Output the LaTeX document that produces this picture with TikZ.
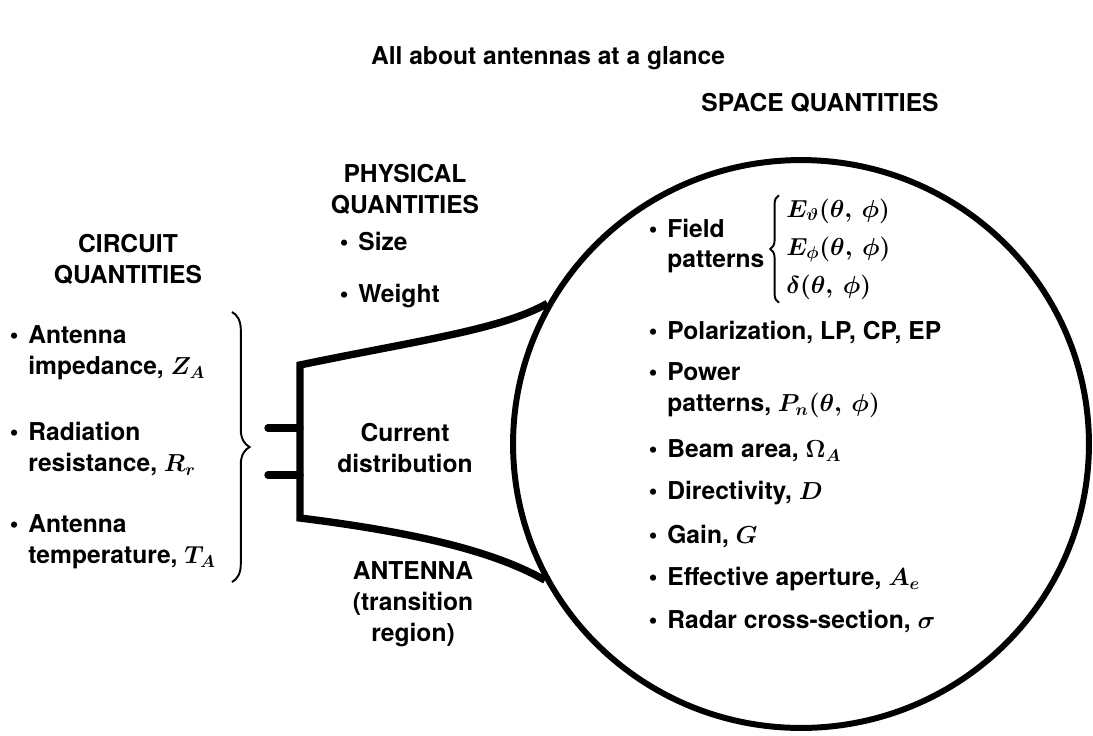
\documentclass[tikz,border=0pt]{standalone}
\IfFileExists{fix-cm.sty}{\usepackage{fix-cm}}{}
\usepackage{fontspec}
\setmainfont{TeX Gyre Heros}
\usepackage{amsmath}
\usetikzlibrary{shapes.geometric, decorations.pathreplacing, positioning, calc}
\newcommand{\bul}{\llap{\textbullet\hspace{0.4em}}}

\begin{document}
\begin{tikzpicture}[
    x=0.02cm, y=-0.02cm,
    base/.style={font=\fontsize{14}{17.6}\selectfont\bfseries\boldmath, inner sep=0pt},
    heading/.style={base, align=center},
    item/.style={base, align=left, anchor=west},
    curly/.style={line width=1.1pt, decorate, decoration={brace, amplitude=#1}},
    horn/.style={line width=4.2pt, line join=miter},
    feed/.style={line width=4.2pt, line cap=round},
    sphere/.style={draw, ellipse, line width=3.4pt, minimum width=11.52cm, minimum height=11.36cm, inner sep=0pt}
  ]
    \useasboundingbox (0,0) rectangle (1093,735);

    % Titles
    \node[heading] (title) at (548,58) {All about antennas at a glance};
    \node[heading] (spacehead) at (820,103) {SPACE QUANTITIES};
    \node[heading] (physhead) at (405,189) {PHYSICAL\\QUANTITIES};
    \node[heading] (circhead) at (128,259) {CIRCUIT\\QUANTITIES};

    % Physical quantities
    \node[item] (size) at (358,241) {\bul Size};
    \node[item] (weight) at (358,296) {\bul Weight};

    % Circuit quantities
    \node[item] (imped) at (28,353) {\bul Antenna\\impedance, $Z_A$};
    \node[item] (radres) at (28,449) {\bul Radiation\\resistance, $R_r$};
    \node[item] (temp) at (28,542) {\bul Antenna\\temperature, $T_A$};
    \coordinate (braceTop) at (232,312);
    \coordinate (braceBot) at (232,582);
    \draw[curly=10pt] (braceTop) -- (braceBot);

    % Antenna (horn)
    \node[sphere] (space) at (801,444) {};
    \coordinate (hornTop) at (300,365);
    \coordinate (hornBot) at (300,518);
    \draw[horn] (space.151) .. controls (500,330) and (420,340) .. (hornTop)
      -- (hornBot) .. controls (420,533) and (495,552) .. (space.208);
    \coordinate (feedA) at (268,428);
    \coordinate (feedB) at (268,475);
    \draw[feed] (feedA) -- (feedA -| hornTop);
    \draw[feed] (feedB) -- (feedB -| hornTop);
    \node[heading] (current) at (405,448) {Current\\distribution};
    \node[heading] (antenna) at (413,604) {ANTENNA\\(transition\\region)};

    % Space quantities
    \node[item] (field) at (667,246) {\bul Field\\patterns};
    \node[base, anchor=west] (fieldeq) at (786,249) {$\begin{array}{@{}l@{}}
        E_\vartheta(\theta,\,\phi)\\[4pt] E_\phi(\theta,\,\phi)\\[4pt] \delta(\theta,\,\phi)
      \end{array}$};
    \draw[curly=5pt] ([xshift=-4pt]fieldeq.south west) -- ([xshift=-4pt]fieldeq.north west);
    \node[item] (polar) at (667,332) {\bul Polarization, LP, CP, EP};
    \node[item] (power) at (667,390) {\bul Power\\patterns, $P_n(\theta,\,\phi)$};
    \node[item] (beam) at (667,451) {\bul Beam area, $\Omega_A$};
    \node[item] (direct) at (667,493) {\bul Directivity, $D$};
    \node[item] (gain) at (667,536) {\bul Gain, $G$};
    \node[item] (aper) at (667,579) {\bul Effective aperture, $A_e$};
    \node[item] (radar) at (667,621) {\bul Radar cross-section, $\sigma$};
  \end{tikzpicture}
\end{document}
